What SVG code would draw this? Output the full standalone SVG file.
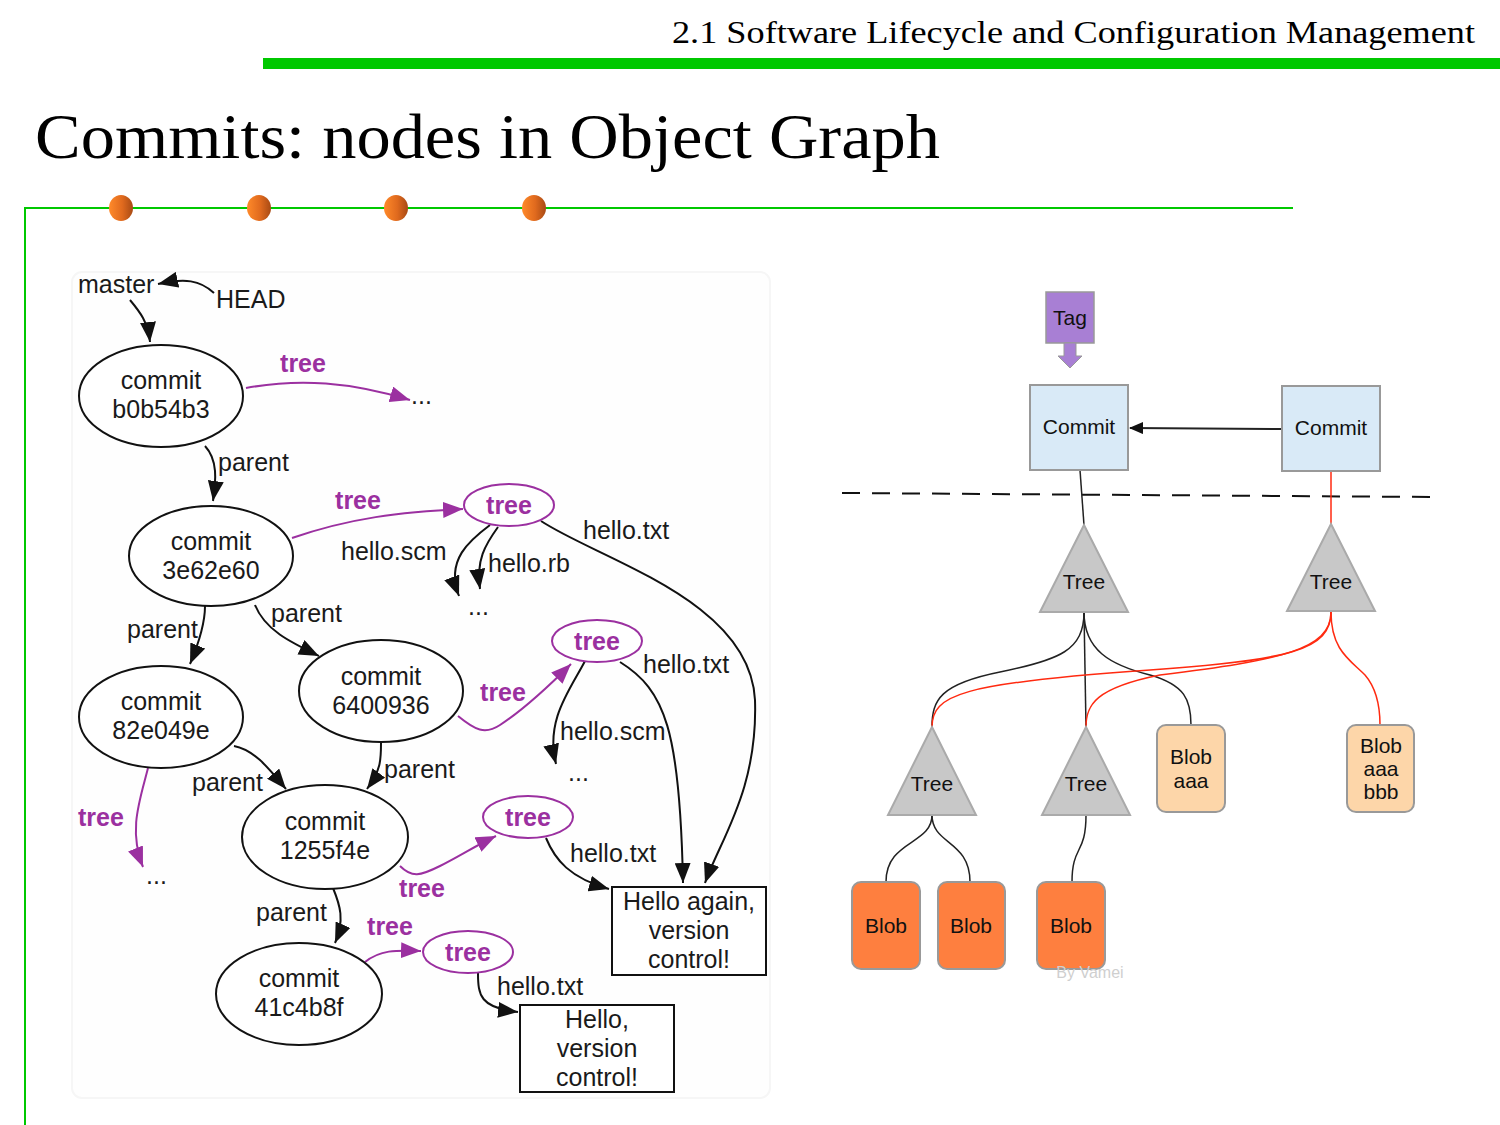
<svg xmlns="http://www.w3.org/2000/svg" width="1500" height="1125" viewBox="0 0 1500 1125">
  <defs>
    <linearGradient id="dotGrad" x1="0" y1="0" x2="1" y2="0">
      <stop offset="0" stop-color="#ff8a2a"/>
      <stop offset="0.55" stop-color="#e06a1e"/>
      <stop offset="1" stop-color="#a84a14"/>
    </linearGradient>
    <marker id="arrowK" markerUnits="userSpaceOnUse" markerWidth="20" markerHeight="16" refX="20" refY="8" orient="auto">
      <path d="M0,0 L20,8 L0,16 z" fill="#111"/>
    </marker>
    <marker id="arrowP" markerUnits="userSpaceOnUse" markerWidth="20" markerHeight="16" refX="20" refY="8" orient="auto">
      <path d="M0,0 L20,8 L0,16 z" fill="#9b30a0"/>
    </marker>
    <marker id="arrowS" markerUnits="userSpaceOnUse" markerWidth="14" markerHeight="12" refX="13" refY="6" orient="auto">
      <path d="M0,0 L14,6 L0,12 z" fill="#111"/>
    </marker>
  </defs>
  <style>
    .serif { font-family: "Liberation Serif", "DejaVu Serif", serif; fill: #000; }
    .lbl { font-family: "Liberation Sans", Arial, sans-serif; font-size: 25px; fill: #1a1a1a; }
    .mid { text-anchor: middle; }
    .ptree { font-family: "Liberation Sans", Arial, sans-serif; font-size: 25px; font-weight: bold; fill: #9b30a0; }
    .commit { fill: #fff; stroke: #111; stroke-width: 2; }
    .treeEl { fill: #fff; stroke: #9b30a0; stroke-width: 2; }
    .blobBox { fill: #fff; stroke: #111; stroke-width: 2; }
    .edge { fill: none; stroke: #111; stroke-width: 2; marker-end: url(#arrowK); }
    .pedge { fill: none; stroke: #9b30a0; stroke-width: 2; marker-end: url(#arrowP); }
    .rl { font-family: "Liberation Sans", Arial, sans-serif; font-size: 21px; fill: #111; text-anchor: middle; }
    .cbox { fill: #d9eaf7; stroke: #999; stroke-width: 2; }
    .tri { fill: #c8c8c8; stroke: #aaa; stroke-width: 2; }
    .blobO { fill: #fe7f3f; stroke: #999; stroke-width: 2; }
    .blobP { fill: #fdd6a9; stroke: #999; stroke-width: 2; }
    .kl { fill: none; stroke: #222; stroke-width: 1.5; }
    .rdl { fill: none; stroke: #ff2a10; stroke-width: 1.5; }
  </style>

  <!-- page header -->
  <g id="header">
    <text class="serif" x="1475" y="43" font-size="32" text-anchor="end" textLength="803" lengthAdjust="spacingAndGlyphs">2.1 Software Lifecycle and Configuration Management</text>
    <rect x="263" y="58" width="1237" height="11" fill="#00c800"/>
    <text class="serif" x="35" y="158" font-size="64" textLength="905" lengthAdjust="spacingAndGlyphs">Commits: nodes in Object Graph</text>
    <path d="M25,208 H1293 M25,207 V1125" stroke="#00c800" stroke-width="2" fill="none"/>
    <ellipse cx="121" cy="208" rx="12" ry="13" fill="url(#dotGrad)"/>
    <ellipse cx="259" cy="208" rx="12" ry="13" fill="url(#dotGrad)"/>
    <ellipse cx="396" cy="208" rx="12" ry="13" fill="url(#dotGrad)"/>
    <ellipse cx="534" cy="208" rx="12" ry="13" fill="url(#dotGrad)"/>
  </g>

  <!-- left panel: commit history graph -->
  <rect id="leftPanel" x="72" y="272" width="698" height="826" rx="10" fill="#fefefe" stroke="#f6f6f6" stroke-width="2"/>

  <g id="connectors-left">
    <path class="edge" d="M214,293 C200,280 185,278 158,284"/>
    <path class="edge" d="M130,300 C140,312 148,322 150,342"/>
    <path class="pedge" d="M246,388 C300,378 350,382 410,400"/>
    <path class="edge" d="M205,446 C218,460 216,480 213,501"/>
    <path class="pedge" d="M292,538 C350,518 400,512 463,509"/>
    <path class="edge" d="M490,525 C470,540 445,560 459,596"/>
    <path class="edge" d="M498,527 C485,545 476,560 480,589"/>
    <path class="edge" d="M541,521 C600,560 750,600 755,700 C758,790 720,840 705,883"/>
    <path class="edge" d="M205,606 C205,625 198,645 190,664"/>
    <path class="edge" d="M255,605 C265,630 290,642 319,656"/>
    <path class="pedge" d="M458,716 C475,730 485,735 500,725 C520,712 545,690 571,664"/>
    <path class="edge" d="M585,661 C570,690 545,720 556,764"/>
    <path class="edge" d="M620,662 C665,690 680,730 683,883"/>
    <path class="pedge" d="M148,768 C140,800 128,830 143,867"/>
    <path class="edge" d="M234,746 C255,750 270,770 286,789"/>
    <path class="edge" d="M381,743 C381,760 381,770 367,789"/>
    <path class="pedge" d="M400,866 C412,878 420,876 440,866 C460,856 475,846 496,836"/>
    <path class="edge" d="M546,838 C555,860 570,878 609,889"/>
    <path class="edge" d="M333,888 C340,905 345,920 335,943"/>
    <path class="pedge" d="M365,962 C380,950 395,950 421,951"/>
    <path class="edge" d="M478,973 C478,995 480,1008 518,1012"/>
  </g>

  <g id="edge-labels">
    <text class="lbl" x="78" y="293">master</text>
    <text class="lbl" x="216" y="308">HEAD</text>
    <text class="ptree mid" x="303" y="372">tree</text>
    <text class="lbl" x="411" y="404">...</text>
    <text class="lbl" x="218" y="471">parent</text>
    <text class="ptree mid" x="358" y="509">tree</text>
    <text class="lbl" x="341" y="560">hello.scm</text>
    <text class="lbl" x="488" y="572">hello.rb</text>
    <text class="lbl" x="468" y="615">...</text>
    <text class="lbl" x="583" y="539">hello.txt</text>
    <text class="lbl" x="127" y="638">parent</text>
    <text class="lbl" x="271" y="622">parent</text>
    <text class="ptree mid" x="503" y="701">tree</text>
    <text class="lbl" x="643" y="673">hello.txt</text>
    <text class="lbl" x="560" y="740">hello.scm</text>
    <text class="lbl" x="568" y="781">...</text>
    <text class="ptree" x="78" y="826">tree</text>
    <text class="lbl" x="146" y="884">...</text>
    <text class="lbl" x="192" y="791">parent</text>
    <text class="lbl" x="384" y="778">parent</text>
    <text class="ptree mid" x="422" y="897">tree</text>
    <text class="lbl" x="570" y="862">hello.txt</text>
    <text class="lbl" x="256" y="921">parent</text>
    <text class="ptree mid" x="390" y="935">tree</text>
    <text class="lbl" x="497" y="995">hello.txt</text>
  </g>

  <g id="commit-b0b54b3">
    <ellipse class="commit" cx="161" cy="396" rx="82" ry="51"/>
    <text class="lbl mid" x="161" y="389">commit</text>
    <text class="lbl mid" x="161" y="418">b0b54b3</text>
  </g>
  <g id="commit-3e62e60">
    <ellipse class="commit" cx="211" cy="556" rx="82" ry="50"/>
    <text class="lbl mid" x="211" y="550">commit</text>
    <text class="lbl mid" x="211" y="579">3e62e60</text>
  </g>
  <g id="commit-82e049e">
    <ellipse class="commit" cx="161" cy="717" rx="82" ry="51"/>
    <text class="lbl mid" x="161" y="710">commit</text>
    <text class="lbl mid" x="161" y="739">82e049e</text>
  </g>
  <g id="commit-6400936">
    <ellipse class="commit" cx="381" cy="691" rx="82" ry="51"/>
    <text class="lbl mid" x="381" y="685">commit</text>
    <text class="lbl mid" x="381" y="714">6400936</text>
  </g>
  <g id="commit-1255f4e">
    <ellipse class="commit" cx="325" cy="837" rx="83" ry="52"/>
    <text class="lbl mid" x="325" y="830">commit</text>
    <text class="lbl mid" x="325" y="859">1255f4e</text>
  </g>
  <g id="commit-41c4b8f">
    <ellipse class="commit" cx="299" cy="994" rx="83" ry="51"/>
    <text class="lbl mid" x="299" y="987">commit</text>
    <text class="lbl mid" x="299" y="1016">41c4b8f</text>
  </g>

  <g id="tree-3e62e60">
    <ellipse class="treeEl" cx="509" cy="505" rx="45" ry="21"/>
    <text class="ptree mid" x="509" y="514">tree</text>
  </g>
  <g id="tree-6400936">
    <ellipse class="treeEl" cx="597" cy="641" rx="45" ry="21"/>
    <text class="ptree mid" x="597" y="650">tree</text>
  </g>
  <g id="tree-1255f4e">
    <ellipse class="treeEl" cx="528" cy="817" rx="45" ry="21"/>
    <text class="ptree mid" x="528" y="826">tree</text>
  </g>
  <g id="tree-41c4b8f">
    <ellipse class="treeEl" cx="468" cy="952" rx="45" ry="21"/>
    <text class="ptree mid" x="468" y="961">tree</text>
  </g>

  <g id="blob-hello-again">
    <rect class="blobBox" x="612" y="887" width="154" height="88"/>
    <text class="lbl mid" x="689" y="910">Hello again,</text>
    <text class="lbl mid" x="689" y="939">version</text>
    <text class="lbl mid" x="689" y="968">control!</text>
  </g>
  <g id="blob-hello">
    <rect class="blobBox" x="520" y="1005" width="154" height="87"/>
    <text class="lbl mid" x="597" y="1028">Hello,</text>
    <text class="lbl mid" x="597" y="1057">version</text>
    <text class="lbl mid" x="597" y="1086">control!</text>
  </g>

  <!-- right panel: object model -->
  <line id="snapshot-divider" x1="842" y1="493" x2="1432" y2="497" stroke="#111" stroke-width="2" stroke-dasharray="18 12"/>

  <g id="connectors-right">
    <line x1="1282" y1="429" x2="1130" y2="428" stroke="#222" stroke-width="2" marker-end="url(#arrowS)"/>
    <path class="kl" d="M1080,470 L1084,525"/>
    <path class="rdl" d="M1331,471 L1331,524"/>
    <path class="kl" d="M1084,612 C1084,650 1060,660 1000,672 C940,684 932,700 932,727"/>
    <path class="kl" d="M1084,612 L1086,727"/>
    <path class="kl" d="M1084,612 C1084,650 1110,665 1150,675 C1185,685 1191,700 1191,725"/>
    <path class="rdl" d="M1331,612 C1331,650 1290,660 1150,670 C960,683 932,695 932,727"/>
    <path class="rdl" d="M1331,612 C1331,650 1280,660 1160,675 C1095,688 1086,705 1086,727"/>
    <path class="rdl" d="M1331,612 C1331,650 1350,660 1365,675 C1378,690 1380,710 1380,725"/>
    <path class="kl" d="M932,815 C932,845 886,840 886,882"/>
    <path class="kl" d="M932,815 C932,845 970,840 970,882"/>
    <path class="kl" d="M1086,815 C1086,855 1072,845 1072,882"/>
  </g>

  <g id="tag">
    <rect x="1046" y="292" width="48" height="51" fill="#a87fd4" stroke="#999" stroke-width="1.5"/>
    <text class="rl" x="1070" y="325">Tag</text>
    <polygon points="1064,343 1076,343 1076,356 1082,356 1070,368 1058,356 1064,356" fill="#a87fd4" stroke="#999" stroke-width="1"/>
  </g>
  <g id="commit-a">
    <rect class="cbox" x="1030" y="385" width="98" height="85"/>
    <text class="rl" x="1079" y="434">Commit</text>
  </g>
  <g id="commit-b">
    <rect class="cbox" x="1282" y="386" width="98" height="85"/>
    <text class="rl" x="1331" y="435">Commit</text>
  </g>
  <g id="tree-root-a">
    <polygon class="tri" points="1084,525 1128,612 1040,612"/>
    <text class="rl" x="1084" y="589">Tree</text>
  </g>
  <g id="tree-root-b">
    <polygon class="tri" points="1331,524 1375,611 1287,611"/>
    <text class="rl" x="1331" y="589">Tree</text>
  </g>
  <g id="tree-sub-1">
    <polygon class="tri" points="932,727 976,815 888,815"/>
    <text class="rl" x="932" y="791">Tree</text>
  </g>
  <g id="tree-sub-2">
    <polygon class="tri" points="1086,727 1130,815 1042,815"/>
    <text class="rl" x="1086" y="791">Tree</text>
  </g>
  <g id="blob-aaa">
    <rect class="blobP" x="1157" y="725" width="68" height="87" rx="9"/>
    <text class="rl" x="1191" y="764">Blob</text>
    <text class="rl" x="1191" y="788">aaa</text>
  </g>
  <g id="blob-aaa-bbb">
    <rect class="blobP" x="1347" y="725" width="67" height="87" rx="9"/>
    <text class="rl" x="1381" y="753">Blob</text>
    <text class="rl" x="1381" y="776">aaa</text>
    <text class="rl" x="1381" y="799">bbb</text>
  </g>
  <g id="blob-1">
    <rect class="blobO" x="852" y="882" width="68" height="87" rx="9"/>
    <text class="rl" x="886" y="933">Blob</text>
  </g>
  <g id="blob-2">
    <rect class="blobO" x="938" y="882" width="67" height="87" rx="9"/>
    <text class="rl" x="971" y="933">Blob</text>
  </g>
  <g id="blob-3">
    <rect class="blobO" x="1037" y="882" width="68" height="87" rx="9"/>
    <text class="rl" x="1071" y="933">Blob</text>
  </g>
  <text x="1090" y="978" font-family="Liberation Sans, Arial, sans-serif" font-size="16" fill="#cfcfcf" text-anchor="middle">By Vamei</text>
</svg>
